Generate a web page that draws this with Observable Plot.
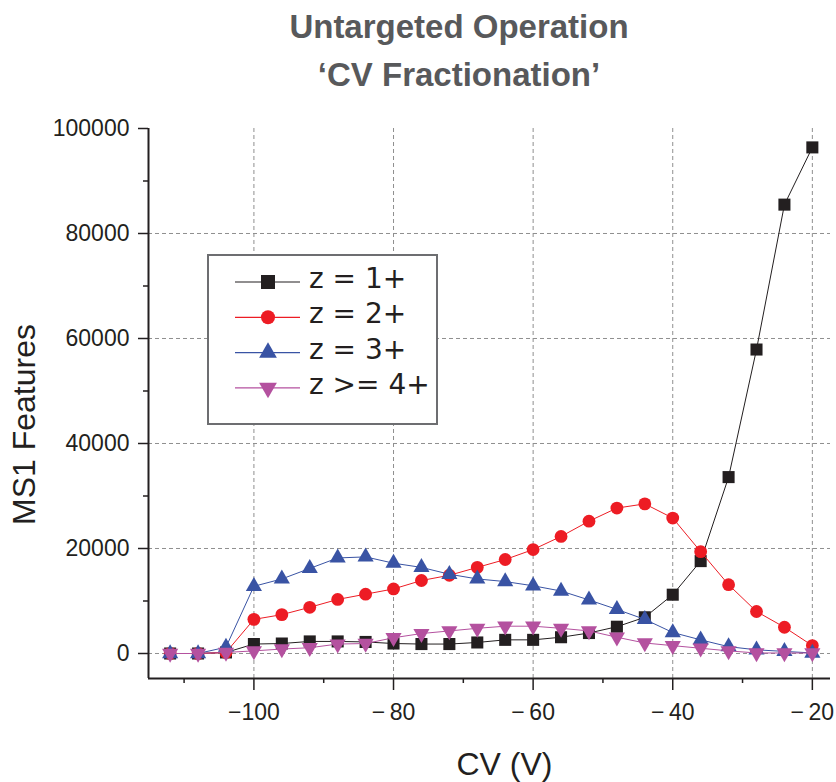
<!DOCTYPE html>
<html>
<head>
<meta charset="utf-8">
<script src="https://cdn.jsdelivr.net/npm/d3@7"></script>
<script src="https://cdn.jsdelivr.net/npm/@observablehq/plot@0.6"></script>
<style>
  body { margin: 0; background: #fff; font-family: "Liberation Sans", Arial, sans-serif; }
  #wrap { position: relative; width: 836px; height: 782px; overflow: hidden; }
  #title { position: relative; height: 100px; }
  .t { position: absolute; left: 0; width: 918px; text-align: center; font-weight: bold;
       font-size: 33px; line-height: 1; color: #58595b; white-space: nowrap; }
  #legend { position: absolute; left: 207px; top: 254px; }
</style>
</head>
<body>
<div id="wrap">
  <div id="title">
    <div class="t" style="top:10px">Untargeted Operation</div>
    <div class="t" style="top:58px">‘CV Fractionation’</div>
  </div>
  <div id="chart"></div>
  <svg id="legend" width="232" height="172"></svg>
</div>
<script>
// ---- data ----
const cv = [-112, -108, -104, -100, -96, -92, -88, -84, -80, -76, -72, -68,
            -64, -60, -56, -52, -48, -44, -40, -36, -32, -28, -24, -20];
const z1 = [0, 0, 200, 1800, 1900, 2300, 2300, 2200, 1900, 1800, 1800, 2100,
            2600, 2600, 3100, 3900, 5100, 6900, 11200, 17600, 33600, 57900, 85500, 96400];
const z2 = [0, 0, 200, 6500, 7400, 8800, 10300, 11300, 12300, 13900, 14900, 16400,
            17900, 19800, 22300, 25200, 27700, 28500, 25800, 19400, 13100, 8000, 5000, 1500];
const z3 = [0, 0, 1200, 12800, 14200, 16200, 18200, 18400, 17200, 16400, 15100, 14200,
            13700, 12900, 11900, 10200, 8400, 6500, 4000, 2600, 1300, 700, 400, 100];
const z4 = [0, 0, 200, 500, 850, 1100, 1800, 1900, 3000, 3800, 4300, 4800,
            5200, 5200, 4800, 4300, 3100, 2000, 1500, 1000, 500, 100, 100, 100];
const seriesNames = ["z = 1+", "z = 2+", "z = 3+", "z >= 4+"];
const seriesColors = ["#231f20", "#ed1c24", "#3953a4", "#b4519f"];
const xMajorTicks = [-100, -80, -60, -40, -20];
const xMinorTicks = [-110, -90, -70, -50, -30];
const yMajorTicks = [0, 20000, 40000, 60000, 80000, 100000];
const yMinorTicks = [10000, 30000, 50000, 70000, 90000];
const yGridTicks = [0, 20000, 40000, 60000, 80000];
const xDomain = [-115.1, -17.4];
const yDomain = [-4762, 100000];

// ---- symbols ----
const sqrt3 = Math.sqrt(3);
const symbolTriangleDown = {
  draw(context, size) {
    const y = -Math.sqrt(size / (sqrt3 * 3));
    context.moveTo(0, -y * 2);
    context.lineTo(-sqrt3 * y, y);
    context.lineTo(sqrt3 * y, y);
    context.closePath();
  }
};
const symbols = [d3.symbolSquare, d3.symbolCircle, d3.symbolTriangle, symbolTriangleDown];
const radii = [6.8, 6.4, 6, 6];

const allValues = [z1, z2, z3, z4];
const series = allValues.map((vals, i) =>
  cv.map((x, j) => ({cv: x, value: vals[j], series: seriesNames[i]})));

const seriesMarks = series.flatMap((rows, i) => [
  Plot.line(rows, {x: "cv", y: "value", stroke: seriesColors[i], strokeWidth: 1}),
  Plot.dot(rows, {x: "cv", y: "value", symbol: symbols[i], r: radii[i],
                  fill: seriesColors[i], stroke: "none"})
]);

const fmtX = d => "\u2212" + (Math.abs(d) < 100 ? "\u2009" : "") + Math.abs(d);
const gridStyle = {stroke: "#8f8f8f", strokeOpacity: 1, strokeWidth: 1, strokeDasharray: "4,3"};

const chart = Plot.plot({
  width: 836,
  height: 682,
  marginTop: 28,
  marginBottom: 104,
  marginLeft: 148,
  marginRight: 6,
  style: {fontFamily: "'Liberation Sans', Arial, sans-serif", fontSize: "23px",
          color: "#231f20", background: "transparent"},
  x: {domain: xDomain},
  y: {domain: yDomain},
  marks: [
    Plot.gridX(xMajorTicks, gridStyle),
    Plot.gridY(yGridTicks, gridStyle),
    Plot.axisX(xMajorTicks, {tickSize: 12, tickPadding: 13, tickFormat: fmtX, label: null,
                             fontSize: 23, strokeWidth: 1.5}),
    Plot.axisX(xMinorTicks, {tickSize: 5, tickFormat: () => "", label: null, strokeWidth: 1.5}),
    Plot.axisY(yMajorTicks, {tickSize: 10, tickPadding: 9, tickFormat: d => String(d),
                             label: null, fontSize: 23, strokeWidth: 1.5}),
    Plot.axisY(yMinorTicks, {tickSize: 5, tickFormat: () => "", label: null, strokeWidth: 1.5}),
    Plot.ruleX([xDomain[0]], {stroke: "#231f20", strokeWidth: 2}),
    Plot.ruleY([yDomain[0]], {stroke: "#231f20", strokeWidth: 2}),
    ...seriesMarks,
    Plot.text(["MS1 Features"], {frameAnchor: "left", rotate: -90, dx: -124, dy: 21,
                                 fontSize: 32, textAnchor: "middle", lineAnchor: "middle",
                                 fill: "#231f20"}),
    Plot.text(["CV (V)"], {frameAnchor: "bottom", dx: 15, dy: 86, fontSize: 32,
                           textAnchor: "middle", lineAnchor: "middle", fill: "#231f20"})
  ]
});
document.getElementById("chart").appendChild(chart);

// ---- legend ----
const lg = d3.select("#legend");
lg.append("rect").attr("x", 1).attr("y", 1).attr("width", 229).attr("height", 169)
  .attr("fill", "#fff").attr("stroke", "#6d6e71").attr("stroke-width", 2);
const legendR = [7.9, 7, 6.6, 6.6];
seriesNames.forEach((name, i) => {
  const cy = 28 + i * 35.3;
  const g = lg.append("g").attr("transform", `translate(0,${cy})`);
  g.append("line").attr("x1", 28).attr("x2", 93).attr("y1", 0).attr("y2", 0)
    .attr("stroke", seriesColors[i]).attr("stroke-width", 1.2);
  g.append("path").attr("transform", "translate(61,0)")
    .attr("d", d3.symbol(symbols[i], Math.PI * legendR[i] * legendR[i])())
    .attr("fill", seriesColors[i]);
  g.append("text").attr("x", 102).attr("y", 0).attr("dy", "0.22em")
    .attr("font-family", "'DejaVu Sans', Verdana, sans-serif").attr("font-size", 28)
    .attr("fill", "#231f20").text(name);
});
</script>
</body>
</html>
